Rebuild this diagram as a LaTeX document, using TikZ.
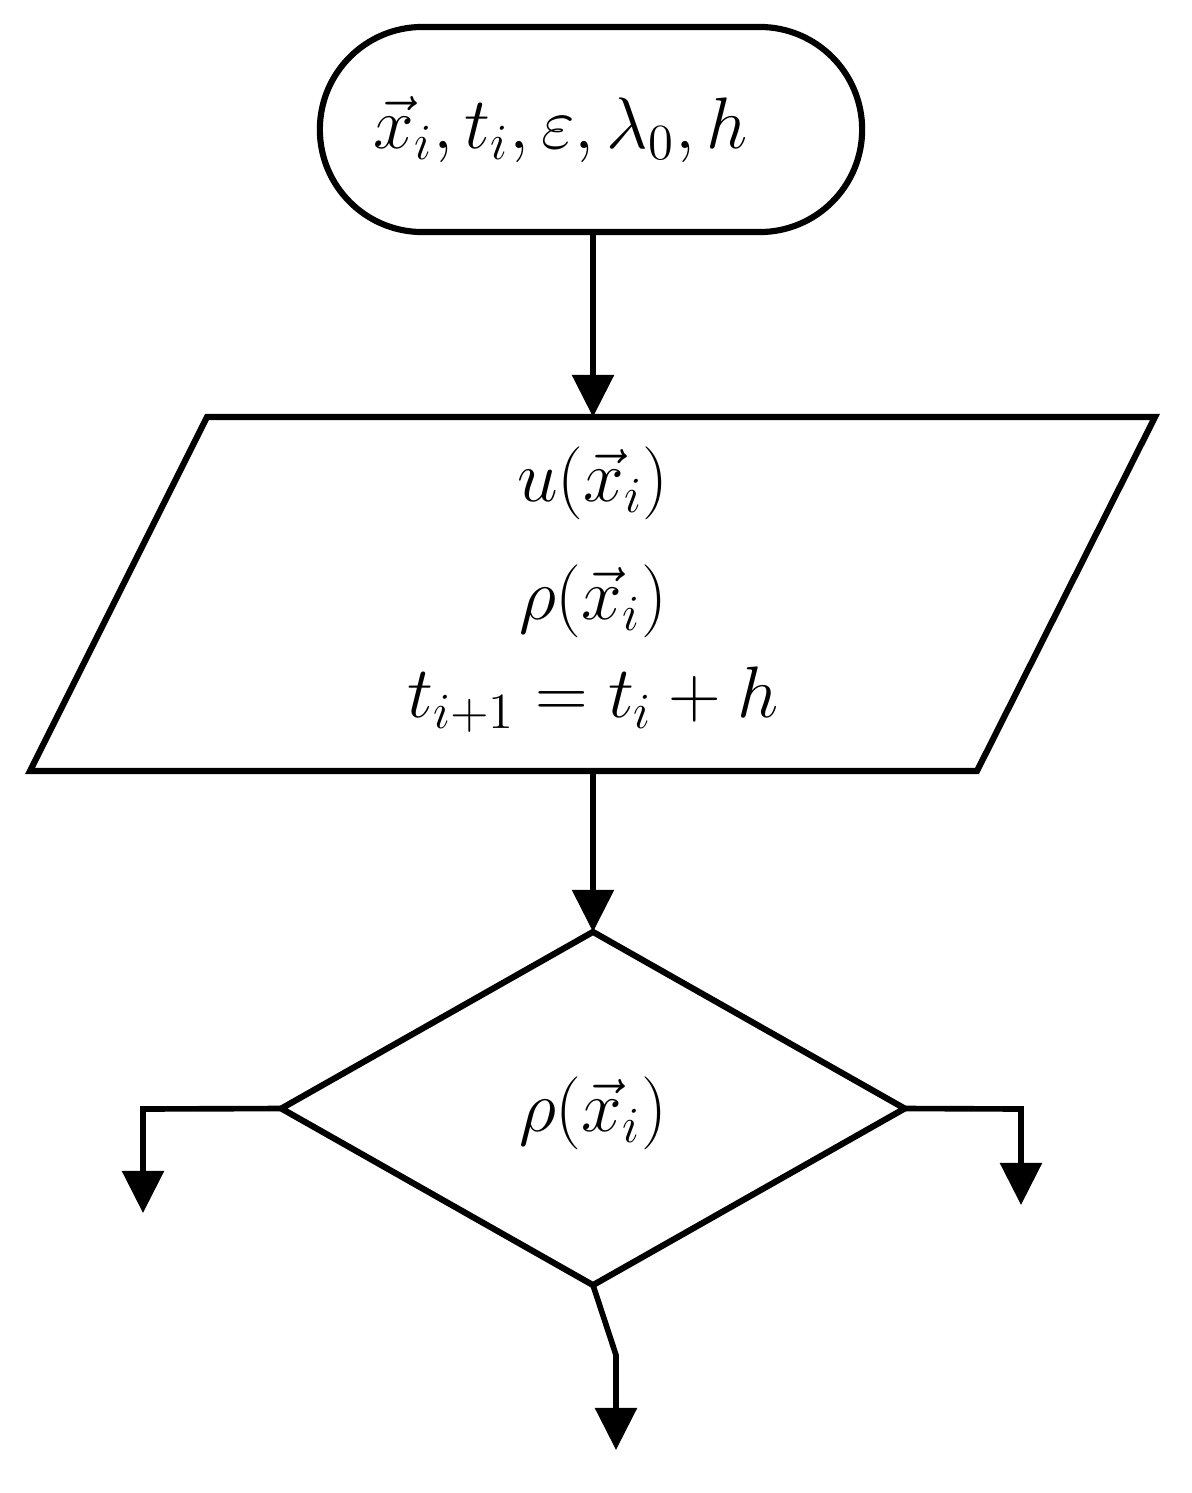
\documentclass[tikz,border=0pt]{standalone}
\usetikzlibrary{shapes.geometric,shapes.misc,arrows.meta}
\begin{document}
\begin{tikzpicture}[x=0.01cm,y=-0.01cm,
  every node/.style={font=\fontsize{21}{25}\selectfont, outer sep=0pt, inner sep=0pt},
  shape line/.style={draw, line width=1.75pt},
  conn/.style={line width=1.6pt, -{Triangle[width=0.41cm,length=0.42cm]}}]
\useasboundingbox (0,0) rectangle (1192,1493);
\node[shape line, rounded rectangle, minimum width=5.42cm, minimum height=2.05cm] (start) at (591,129.5) {$\vec{x}_i, t_i, \varepsilon, \lambda_0, h$\hspace*{0.6cm}};
% parallelogram
\coordinate (ptl) at (207,417);
\coordinate (ptr) at (1155,417);
\coordinate (pbr) at (977,771);
\coordinate (pbl) at (30,771);
\coordinate (ion) at (593,417);
\coordinate (ios) at (593,771);
\draw[shape line, line join=miter] (ptl) -- (ptr) -- (pbr) -- (pbl) -- cycle;
\node[align=center] (iotext) at (593,590) {$u(\vec{x}_i)$\\[0.3cm] $\rho(\vec{x}_i)$\\[0.1cm] $t_{i+1} = t_i + h$};
\node[shape line, diamond, minimum width=6.23cm, minimum height=3.53cm] (dec) at (593,1108.5) {};
\node (dectext) at (593,1113) {$\rho(\vec{x}_i)$};
\coordinate (lbend) at (143,1109);
\coordinate (lend) at (143,1213);
\coordinate (rbend) at (1021,1109);
\coordinate (rend) at (1021,1205);
\coordinate (bbend) at (616,1355);
\coordinate (bend) at (616,1450);
\draw[conn] (start.south -| ion) -- (ion);
\draw[conn] (ios) -- (dec.north);
\draw[conn] (dec.west) -- (lbend) -- (lend);
\draw[conn] (dec.east) -- (rbend) -- (rend);
\draw[conn] (dec.south) -- (bbend) -- (bend);
\end{tikzpicture}
\end{document}
